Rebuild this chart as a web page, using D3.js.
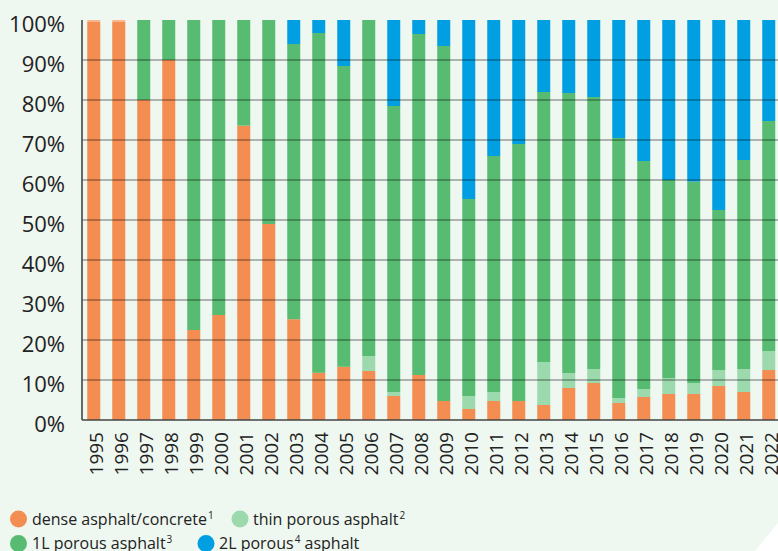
<!doctype html>
<html>
<head>
<meta charset="utf-8">
<title>Road surfaces by year</title>
<script src="https://d3js.org/d3.v7.min.js"></script>
<style>
  body { margin: 0; background: #fff; }
  svg { display: block; }
  .ylab { font: 22px "Open Sans", sans-serif; fill: #222; }
  .xlab { font: 19px "Open Sans", sans-serif; fill: #222; }
  .leg { font: 16px "Open Sans", sans-serif; fill: #222; }
</style>
</head>
<body>
<div id="chart"></div>
<script>
const years = ["1995","1996","1997","1998","1999","2000","2001","2002","2003","2004",
               "2005","2006","2007","2008","2009","2010","2011","2012","2013","2014",
               "2015","2016","2017","2018","2019","2020","2021","2022"];

// shares in % per year
const dense  = [99.5, 99.5, 80, 90, 22.5, 26.25, 73.6, 49, 25.2, 11.8,
                13.3, 12.25, 6, 11.25, 4.75, 2.75, 4.75, 4.75, 3.75, 8,
                9.25, 4.25, 5.75, 6.5, 6.5, 8.5, 7, 12.5];
const other  = [0.5, 0.5, 0, 0, 0, 0, 0, 0, 0, 0,
                0, 0, 0, 0, 0, 0, 0, 0, 0, 0,
                0, 0, 0, 0, 0, 0, 0, 0];
const thin   = [0, 0, 0, 0, 0, 0, 0, 0, 0, 0,
                0, 3.75, 1, 0, 0, 3.25, 2.25, 0, 10.75, 3.75,
                3.5, 1.25, 2, 4, 2.75, 4, 5.75, 4.75];
const oneL   = [0, 0, 20, 10, 77.5, 73.75, 26.4, 51, 68.8, 84.95,
                75.2, 84, 71.5, 85.25, 88.75, 49.25, 59, 64.25, 67.5, 70,
                68, 65, 57, 49.5, 50.35, 40, 52.25, 57.5];
const twoL   = [0, 0, 0, 0, 0, 0, 0, 0, 6, 3.25,
                11.5, 0, 21.5, 3.5, 6.5, 44.75, 34, 31, 18, 18.25,
                19.25, 29.5, 35.25, 40, 40.4, 47.5, 35, 25.25];

const yTicks = [0, 10, 20, 30, 40, 50, 60, 70, 80, 90, 100];

const keys = ["dense", "other", "thin", "oneL", "twoL"];
const colors = {
  dense: "#f38d51", other: "#fbb68b", thin: "#9cd9ad", oneL: "#57bb71", twoL: "#009fe1"
};

const rows = years.map((y, i) => ({
  year: y, dense: dense[i], other: other[i], thin: thin[i], oneL: oneL[i], twoL: twoL[i]
}));

const w = 778, h = 551;
const margin = { top: 20, left: 82, bottom: 131 };

const svg = d3.select("#chart").append("svg")
  .attr("width", w).attr("height", h);

// background panel with cut corner
svg.append("path")
  .attr("d", `M0,0 H${w} V523 L755,${h} H0 Z`)
  .attr("fill", "#eef7f0");

const x = d3.scaleBand()
  .domain(years)
  .range([margin.left - 1, margin.left - 1 + 700.5])
  .paddingInner(0.48)
  .paddingOuter(0.25);

const y = d3.scaleLinear()
  .domain([0, 100])
  .range([h - margin.bottom, margin.top]);

const series = d3.stack().keys(keys)(rows);

svg.append("g").selectAll("g")
  .data(series)
  .join("g")
    .attr("fill", d => colors[d.key])
  .selectAll("rect")
  .data(d => d)
  .join("rect")
    .attr("x", d => x(d.data.year))
    .attr("width", x.bandwidth())
    .attr("y", d => y(d[1]))
    .attr("height", d => y(d[0]) - y(d[1]));

// gridlines over the bars
svg.append("g").selectAll("line")
  .data(yTicks.filter(t => t > 0 && t < 100))
  .join("line")
    .attr("x1", margin.left).attr("x2", w)
    .attr("y1", d => y(d)).attr("y2", d => y(d))
    .attr("stroke", "#000")
    .attr("stroke-opacity", 0.36)
    .attr("stroke-width", 1.6);

// axes
svg.append("line")
  .attr("x1", margin.left).attr("x2", margin.left)
  .attr("y1", y(100)).attr("y2", y(0))
  .attr("stroke", "#444").attr("stroke-width", 1.6);
svg.append("line")
  .attr("x1", margin.left).attr("x2", w)
  .attr("y1", y(0)).attr("y2", y(0))
  .attr("stroke", "#444").attr("stroke-width", 1.6);

svg.append("g").selectAll("text")
  .data(yTicks)
  .join("text")
    .attr("class", "ylab")
    .attr("x", 65)
    .attr("y", d => y(d) + 12)
    .attr("text-anchor", "end")
    .text(d => d + "%");

svg.append("g").selectAll("text")
  .data(years)
  .join("text")
    .attr("class", "xlab")
    .attr("text-anchor", "end")
    .attr("transform", d => `translate(${x(d) + x.bandwidth() / 2 + 9.5},432) rotate(-90)`)
    .text(d => d);

// legend
const legend = [
  { key: "dense", label: "dense asphalt/concrete", sup: "1", cx: 18.5, cy: 519, tx: 32, ty: 525 },
  { key: "thin", label: "thin porous asphalt", sup: "2", cx: 240, cy: 519, tx: 253, ty: 525 },
  { key: "oneL", label: "1L porous asphalt", sup: "3", cx: 18.5, cy: 543.5, tx: 32, ty: 549 },
  { key: "twoL", label: "2L porous", sup: "4", after: " asphalt", cx: 206, cy: 543.5, tx: 219, ty: 549 }
];

const lg = svg.append("g").selectAll("g")
  .data(legend)
  .join("g");

lg.append("circle")
  .attr("cx", d => d.cx).attr("cy", d => d.cy).attr("r", 8.5)
  .attr("fill", d => colors[d.key]);

const lt = lg.append("text")
  .attr("class", "leg")
  .attr("x", d => d.tx).attr("y", d => d.ty);
lt.append("tspan").text(d => d.label);
lt.append("tspan")
  .attr("font-size", "10px")
  .attr("dy", -6)
  .attr("dx", 1)
  .text(d => d.sup);
lt.filter(d => d.after).append("tspan")
  .attr("dy", 6)
  .text(d => d.after);
</script>
</body>
</html>
